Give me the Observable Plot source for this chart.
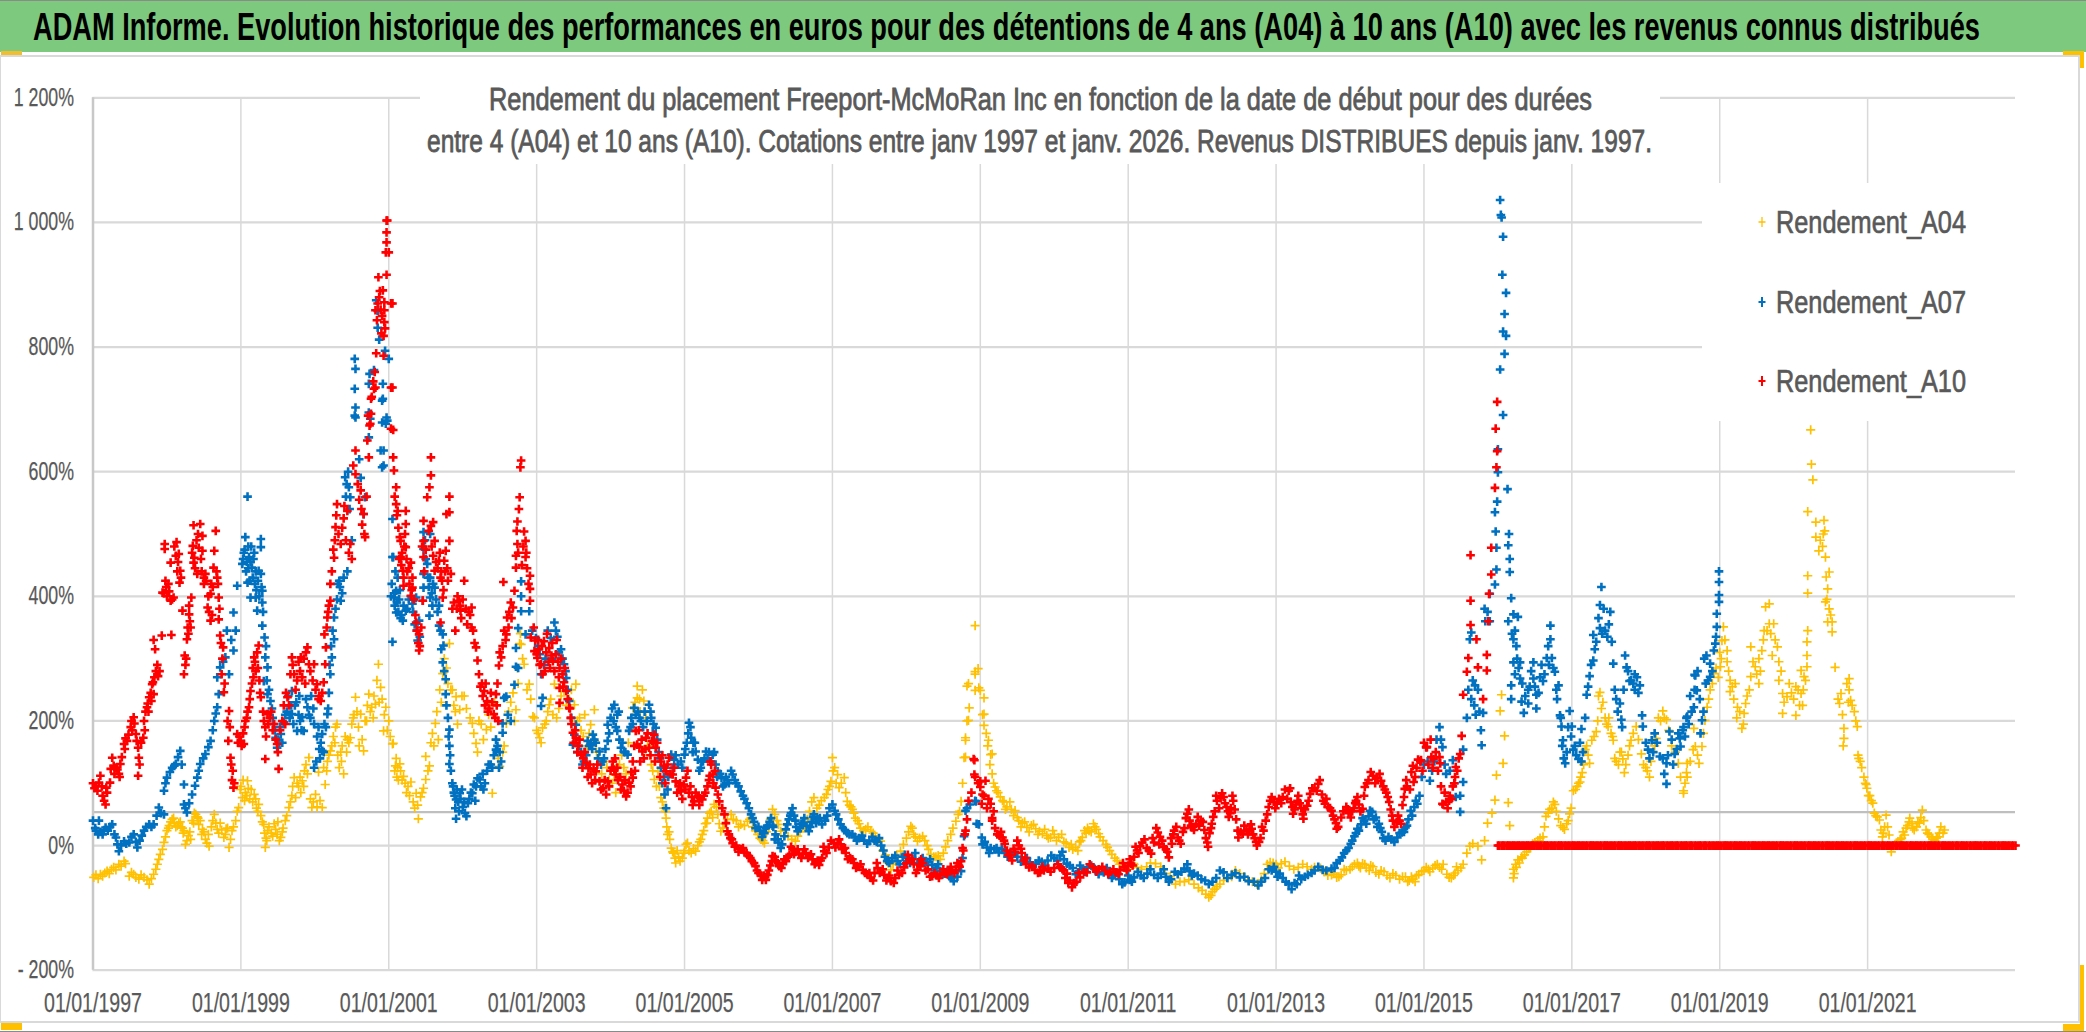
<!DOCTYPE html>
<html lang="fr">
<head>
<meta charset="utf-8">
<title>ADAM Informe</title>
<script src="https://cdn.jsdelivr.net/npm/d3@7"></script>
<script src="https://cdn.jsdelivr.net/npm/@observablehq/plot@0.6"></script>
<style>
html,body{margin:0;padding:0;width:2086px;height:1032px;overflow:hidden;background:#fff;font-family:"Liberation Sans",sans-serif;}
#banner{position:absolute;left:0;top:0;width:2086px;height:52px;background:#7DC97E;border-top:1px solid #8a8a8a;box-sizing:border-box;}
.fit{position:absolute;white-space:nowrap;transform-origin:0 50%;line-height:1;}
#title{left:33px;top:8px;font-size:38px;font-weight:bold;color:#000;}
#subbox{position:absolute;left:420px;top:85px;width:1240px;height:79px;background:#fff;}
.sub{font-size:31px;color:#595959;-webkit-text-stroke:0.8px #595959;}
#sub1{left:489px;top:84px;}
#sub2{left:427px;top:126px;}
#legendbox{position:absolute;left:1702px;top:183px;width:320px;height:238px;background:#fff;}
.leg{font-size:32px;color:#595959;-webkit-text-stroke:0.7px #595959;}
#chart{position:absolute;left:0;top:56px;}
#chart [aria-label$="tick label"] text{stroke:#595959;stroke-width:0.25px;}
.edge{position:absolute;}
</style>
</head>
<body>
<div id="banner"></div>
<div class="edge" style="left:0;top:55px;width:2079px;height:2px;background:#d9d9d9"></div>
<div id="chart"></div>
<div id="subbox"></div>
<div id="legendbox"></div>
<div class="fit" id="title" data-w="1947"></div>
<div class="fit sub" id="sub1" data-w="1103"></div>
<div class="fit sub" id="sub2" data-w="1225"></div>
<div id="legend"></div>
<div class="edge" style="left:0;top:1021px;width:2079px;height:2px;background:#d9d9d9"></div>
<div class="edge" style="left:2078px;top:55px;width:2px;height:968px;background:#d9d9d9"></div>
<div class="edge" style="left:0;top:55px;width:1px;height:968px;background:#d9d9d9"></div>
<div class="edge" style="left:0;top:1031px;width:2086px;height:1px;background:#8a8a8a"></div>
<div class="edge" style="left:1px;top:51px;width:21px;height:4px;background:#F0BE2E"></div>
<div class="edge" style="left:1px;top:1023px;width:21px;height:7px;background:#FFC000"></div>
<div class="edge" style="left:2063px;top:51px;width:20px;height:4px;background:#FFC000"></div>
<div class="edge" style="left:2080px;top:51px;width:4px;height:17px;background:#FFC000"></div>
<div class="edge" style="left:2063px;top:1024px;width:20px;height:7px;background:#FFC000"></div>
<div class="edge" style="left:2080px;top:965px;width:4px;height:66px;background:#FFC000"></div>
<script>
const titleText = "ADAM Informe. Evolution historique des performances en euros pour des détentions de 4 ans (A04) à 10 ans (A10) avec les revenus connus distribués";
const subtitleLines = ["Rendement du placement Freeport-McMoRan Inc en fonction de la date de début pour des durées",
  "entre 4 (A04) et 10 ans (A10). Cotations entre janv 1997 et janv. 2026. Revenus DISTRIBUES depuis janv. 1997."];
const seriesNames = ["Rendement_A04","Rendement_A07","Rendement_A10"];
const seriesColors = ["#FFC000","#0070C0","#FF0000"];
const xTicks = [1997,1999,2001,2003,2005,2007,2009,2011,2013,2015,2017,2019,2021];
const yTicks = [-200,0,200,400,600,800,1000,1200];
const yTickLabels = ["- 200%","0%","200%","400%","600%","800%","1 000%","1 200%"];
const axisCrossing = 53.6;

// [year, percent, year, percent, ...]
const a04 = [
1997.01,-51,1997.04,-47,1997.07,-53,1997.1,-46,1997.13,-49,1997.16,-44,1997.19,-41,1997.22,-45,1997.25,-38,1997.28,-35,1997.31,-39,1997.35,-30,1997.38,-33,1997.42,-25,1997.44,-29,
1997.49,-49,1997.52,-43,1997.55,-46,1997.58,-51,1997.62,-54,1997.65,-47,1997.69,-51,1997.73,-55,1997.76,-62,1997.79,-53,1997.82,-46,1997.85,-38,1997.87,-30,1997.89,-22,1997.91,-14,1997.94,-6,1997.96,5,1997.98,14,1998.0,24,1998.03,32,1998.07,42,1998.1,36,1998.14,32,1998.18,38,1998.21,28,1998.23,24,1998.25,2,1998.29,16,1998.32,10,1998.36,36,1998.39,50,1998.42,44,1998.45,40,1998.48,26,1998.52,10,1998.57,-1,1998.6,30,1998.64,50,1998.68,26,1998.72,36,1998.77,13,1998.8,27,1998.84,-3,1998.88,24,1998.93,40,1998.97,61,1998.99,90,1999.02,77,1999.06,85,1999.09,104,1999.12,75,1999.18,82,1999.21,60,1999.24,66,1999.27,48,1999.31,34,1999.33,-3,1999.34,12,1999.36,24,1999.41,20,1999.47,26,1999.5,38,1999.54,13,1999.57,28,1999.6,40,1999.65,61,1999.69,80,1999.72,109,1999.74,77,1999.78,95,1999.83,104,1999.86,120,1999.92,141,1999.96,61,2000.01,82,2000.05,118,2000.1,61,2000.12,125,2000.14,98,2000.17,135,2000.21,152,2000.25,175,2000.28,190,2000.33,125,2000.35,150,2000.37,160,2000.39,115,2000.44,170,2000.48,173,2000.52,205,2000.55,238,2000.59,190,2000.62,211,2000.66,152,2000.7,200,2000.73,243,2000.77,222,2000.82,227,2000.86,291,2000.89,254,2000.93,184,2000.96,222,2001.0,200,2001.05,163,2001.06,164,2001.09,128,2001.12,125,2001.15,131,2001.18,105,2001.2,111,2001.26,95,2001.3,102,2001.37,84,2001.39,65,2001.4,43,2001.45,85,2001.5,106,2001.5,143,2001.55,128,2001.59,180,2001.61,160,2001.63,196,2001.69,250,2001.73,276,2001.75,300,2001.82,324,2001.84,250,2001.86,250,2001.88,225,2001.91,239,2001.96,218,2002.02,240,2002.13,196,2002.18,164,2002.22,200,2002.32,186,2002.36,225,2002.4,84,2002.45,170,2002.5,127,2002.54,150,2002.59,196,2002.65,230,2002.72,218,2002.75,260,2002.77,324,2002.79,323,2002.83,291,2002.9,259,2002.95,207,2002.97,205,2003.0,185,2003.04,173,2003.08,189,2003.13,200,2003.17,226,2003.22,210,2003.24,259,2003.3,220,2003.37,248,2003.44,235,2003.51,226,2003.53,259,2003.58,205,2003.63,175,2003.68,160,2003.73,194,2003.78,218,2003.78,168,2003.84,140,2003.91,135,2003.98,105,2004.05,114,2004.07,85,2004.12,130,2004.18,125,2004.24,165,2004.3,221,2004.36,256,2004.36,237,2004.4,215,2004.45,232,2004.5,160,2004.55,130,2004.59,106,2004.64,119,2004.68,77,2004.72,60,2004.75,44,2004.77,18,2004.8,10,2004.82,-4,2004.85,-12,2004.88,-28,2004.92,-18,2004.97,-20,2005.0,-8,2005.04,4,2005.09,-12,2005.15,-9,2005.2,6,2005.24,18,2005.28,35,2005.31,44,2005.36,55,2005.4,66,2005.45,50,2005.49,23,2005.55,35,2005.63,50,2005.7,40,2005.76,34,2005.85,39,2005.92,30,2005.99,18,2006.04,10,2006.08,4,2006.14,30,2006.19,58,2006.25,40,2006.3,23,2006.4,15,2006.5,7,2006.56,22,2006.62,30,2006.69,55,2006.75,77,2006.82,65,2006.89,77,2006.94,90,2006.98,103,2007.0,141,2007.03,125,2007.07,114,2007.09,93,2007.16,109,2007.2,71,2007.25,62,2007.29,52,2007.34,40,2007.38,28,2007.45,26,2007.52,23,2007.58,15,2007.65,7,2007.72,-15,2007.79,-39,2007.85,-25,2007.92,-9,2008.0,12,2008.06,31,2008.1,18,2008.15,7,2008.22,15,2008.28,0,2008.33,-14,2008.4,-18,2008.46,-22,2008.53,-2,2008.6,18,2008.67,39,2008.74,71,2008.78,141,2008.8,169,2008.8,173,2008.8,142,2008.82,200,2008.82,256,2008.84,260,2008.84,201,2008.85,221,2008.93,353,2008.93,275,2008.93,279,2008.93,249,2008.97,284,2008.98,253,2009,249,2009.03,210,2009.05,237,2009.05,211,2009.05,193,2009.08,180,2009.11,169,2009.14,146,2009.16,147,2009.16,115,2009.2,94,2009.24,85,2009.27,78,2009.32,70,2009.36,62,2009.42,58,2009.47,56,2009.52,40,2009.57,36,2009.63,29,2009.69,32,2009.75,27,2009.8,23,2009.84,19,2009.9,16,2009.95,13,2010.0,18,2010.06,13,2010.13,6,2010.2,-3,2010.25,-6,2010.29,-3,2010.34,6,2010.38,13,2010.43,20,2010.47,24,2010.53,35,2010.57,26,2010.6,19,2010.66,8,2010.72,-3,2010.78,-14,2010.85,-24,2010.92,-30,2011.0,-38,2011.12,-35,2011.25,-34,2011.37,-29,2011.5,-45,2011.64,-62,2011.76,-58,2011.89,-62,2012.0,-72,2012.09,-83,2012.14,-74,2012.2,-66,2012.29,-56,2012.4,-50,2012.51,-45,2012.62,-55,2012.74,-62,2012.84,-45,2012.92,-27,2013.0,-30,2013.07,-29,2013.18,-33,2013.3,-35,2013.42,-34,2013.52,-35,2013.65,-42,2013.75,-47,2013.82,-51,2013.88,-47,2013.95,-40,2014.0,-38,2014.06,-30,2014.12,-33,2014.17,-29,2014.22,-36,2014.28,-32,2014.35,-43,2014.42,-40,2014.5,-48,2014.58,-45,2014.67,-54,2014.75,-50,2014.8,-56,2014.85,-54,2014.9,-48,2014.97,-42,2015.03,-35,2015.08,-42,2015.15,-32,2015.21,-35,2015.26,-30,2015.34,-51,2015.37,-52,2015.42,-44,2015.46,-40,2015.53,-30,2015.58,-12,2015.62,-1,2015.66,3,2015.73,-1,2015.78,-23,2015.82,8,2015.86,36,2015.92,52,2015.96,73,2015.98,113,2016.03,216,2016.05,242,2016.07,132,2016.09,176,2016.14,69,2016.16,32,2016.21,-38,2016.21,-52,2016.24,-30,2016.27,-23,2016.32,-18,2016.36,-15,2016.42,-5,2016.47,3,2016.54,8,2016.61,14,2016.65,47,2016.7,58,2016.77,66,2016.82,43,2016.88,29,2016.93,35,2016.97,51,2017.02,88,2017.07,95,2017.11,102,2017.14,117,2017.18,154,2017.24,132,2017.27,169,2017.33,183,2017.38,246,2017.4,220,2017.45,205,2017.49,191,2017.53,180,2017.56,169,2017.6,135,2017.65,150,2017.69,139,2017.71,117,2017.76,145,2017.8,169,2017.87,191,2017.94,147,2018.0,125,2018.05,110,2018.1,150,2018.14,172,2018.17,205,2018.23,216,2018.28,202,2018.35,160,2018.44,132,2018.51,88,2018.51,84,2018.55,117,2018.56,110,2018.56,132,2018.64,154,2018.65,188,2018.67,159,2018.72,132,2018.76,159,2018.8,201,2018.83,222,2018.87,250,2018.92,276,2019.01,287,2019.03,329,2019.05,351,2019.1,313,2019.1,295,2019.14,265,2019.14,247,2019.21,260,2019.24,222,2019.3,188,2019.33,212,2019.35,228,2019.42,271,2019.42,319,2019.48,287,2019.53,260,2019.53,300,2019.57,313,2019.6,345,2019.62,383,2019.67,388,2019.67,356,2019.71,305,2019.73,356,2019.78,319,2019.8,295,2019.8,265,2019.85,244,2019.85,212,2019.91,239,2019.94,260,2020.03,255,2020.03,209,2020.1,244,2020.1,281,2020.12,225,2020.14,271,2020.18,327,2020.18,305,2020.18,287,2020.19,345,2020.19,433,2020.19,405,2020.19,536,2020.23,667,2020.24,612,2020.26,587,2020.3,519,2020.3,495,2020.34,473,2020.4,500,2020.41,522,2020.43,463,2020.43,391,2020.44,431,2020.46,412,2020.46,359,2020.48,439,2020.48,380,2020.52,359,2020.52,343,2020.56,286,2020.62,228,2020.64,244,2020.68,188,2020.68,172,2020.75,268,2020.75,250,2020.77,233,2020.82,215,2020.86,191,2020.88,140,2020.9,135,2020.95,110,2020.97,100,2020.99,92,2021.03,80,2021.07,68,2021.09,52,2021.13,46,2021.16,41,2021.2,14,2021.23,30,2021.25,49,2021.29,17,2021.32,-10,2021.37,2,2021.41,6,2021.46,12,2021.5,17,2021.54,32,2021.57,44,2021.6,35,2021.63,25,2021.7,36,2021.74,57,2021.76,40,2021.79,25,2021.83,18,2021.86,14,2021.91,8,2021.95,14,2021.99,30,2022.04,25
];
const a04Cloud = [
1998.02,28,1998.05,38,1998.09,44,1998.12,30,1998.16,36,1998.19,30,1998.22,20,1998.27,8,1998.31,22,1998.34,40,1998.37,52,1998.41,46,1998.43,34,1998.47,18,1998.5,22,1998.54,4,1998.56,18,1998.62,40,1998.66,36,1998.7,20,1998.74,25,1998.79,18,1998.82,28,1998.86,10,1998.9,30,1998.95,55,1999.0,95,1999.03,105,1999.05,72,1999.08,80,1999.1,92,1999.14,90,1999.16,70,1999.2,75,1999.23,55,1999.29,38,1999.32,20,1999.35,8,1999.38,30,1999.43,15,1999.45,35,1999.49,18,1999.52,8,1999.56,22,1999.62,48,1999.67,70,1999.7,95,1999.76,100,1999.8,110,1999.81,85,1999.85,95,1999.88,130,1999.9,115,1999.94,75,1999.98,70,2000.03,62,2000.07,72,2000.16,120,2000.19,145,2000.23,160,2000.27,165,2000.3,195,2000.31,145,2000.36,135,2000.41,175,2000.43,150,2000.46,165,2000.5,195,2000.53,210,2000.57,215,2000.6,160,2000.64,170,2000.68,200,2000.71,225,2000.75,215,2000.79,205,2000.8,240,2000.84,265,2000.87,230,2000.91,235,2000.94,210,2000.98,185,2001.02,175,2001.08,120,2001.1,140,2001.11,110,2001.13,105,2001.16,120,2001.22,100,2001.24,85,2001.28,80,2001.33,70,2001.35,60,2001.43,78,2001.47,92,2001.53,120,2001.57,165,2001.65,215,2001.67,170,2001.71,230,2001.78,285,2001.8,260,2001.9,215,2001.93,195,2001.99,240,2002.05,220,2002.1,205,2002.15,180,2002.2,150,2002.25,195,2002.28,170,2002.35,210,2002.38,190,2002.43,230,2002.48,140,2002.56,160,2002.62,215,2002.68,245,2002.7,200,2002.74,285,2002.78,340,2002.81,300,2002.87,250,2002.92,235,2003.02,180,2003.06,165,2003.11,195,2003.15,215,2003.19,235,2003.27,205,
2003.33,240,2003.4,225,2003.47,250,2003.55,200,2003.6,185,2003.65,210,2003.71,180,2003.75,160,2003.81,150,2003.88,115,2003.95,125,2004.02,100,2004.1,110,2004.15,145,2004.21,115,2004.26,185,2004.33,230,2004.39,235,2004.43,250,2004.48,205,2004.53,145,2004.57,120,2004.62,95,2004.66,95,2004.7,70,2004.74,55,2004.76,30,2004.79,22,2004.84,-10,2004.87,-20,2004.9,-8,2004.94,-25,2004.99,-12,2005.02,2,2005.06,-8,2005.12,-5,2005.18,0,2005.22,10,2005.26,24,2005.3,36,2005.34,52,2005.38,45,2005.43,62,2005.47,35,2005.52,28,2005.58,42,2005.66,42,2005.73,30,2005.81,32,2005.88,42,2005.96,24,2006.02,12,2006.06,8,2006.11,22,2006.16,42,2006.22,50,2006.27,34,2006.35,16,2006.45,10,2006.53,15,2006.59,30,2006.66,42,2006.72,70,2006.79,60,2006.85,72,2006.92,82,2006.96,95,2007.01,120,2007.05,100,2007.12,100,2007.18,85,2007.23,65,2007.27,58,2007.31,44,2007.36,35,2007.42,24,2007.48,30,2007.55,20,2007.62,10,2007.68,-8,2007.75,-28,2007.82,-30,2007.88,-18,2007.96,2,2008.03,22,2008.08,28,2008.12,14,2008.18,12,2008.25,8,2008.3,-6,2008.37,-18,2008.43,-16,2008.5,-12,2008.56,8,2008.63,28,2008.7,50,2008.72,55,2008.76,100,
2009.1,160,2009.13,130,2009.18,100,2009.22,88,2009.3,72,2009.34,58,2009.4,70,2009.45,48,2009.5,45,2009.55,30,2009.6,38,2009.66,22,2009.72,34,2009.78,18,2009.87,26,2009.92,12,2009.98,24,2010.03,8,2010.1,18,2010.16,4,2010.23,2,2010.32,-8,2010.36,8,2010.41,24,2010.45,28,2010.5,22,2010.55,30,2010.62,14,2010.7,2,2010.75,-8,2010.82,-20,2010.88,-30,2010.96,-36,2011.08,-30,2011.18,-38,2011.3,-28,2011.44,-34,2011.57,-50,2011.7,-58,2011.82,-55,2011.95,-68,2012.05,-78,2012.12,-80,2012.17,-70,2012.24,-62,2012.35,-52,2012.45,-40,2012.57,-50,2012.68,-58,2012.8,-55,2012.88,-30,2012.96,-28,2013.03,-36,2013.12,-26,2013.24,-38,2013.36,-30,2013.48,-38,2013.6,-36,2013.7,-48,2013.78,-44,2013.85,-50,2013.92,-38,2014.03,-34,2014.1,-28,2014.14,-36,2014.2,-30,2014.26,-40,2014.31,-34,2014.39,-46,2014.46,-42,2014.54,-52,2014.62,-48,2014.71,-50,2014.78,-58,2014.83,-50,2014.88,-58,2014.93,-46,2015.0,-40,2015.06,-38,2015.12,-36,2015.18,-30,2015.24,-38,2015.31,-46,2015.4,-48,2015.44,-34,2015.5,-36,
2016.22,-45,2016.25,-35,2016.29,-28,2016.33,-20,2016.39,-10,2016.44,-2,2016.5,5,2016.57,12,2016.63,30,2016.68,52,2016.73,60,2016.75,70,2016.79,55,2016.85,32,2016.9,26,2016.95,40,2016.99,60,2017.05,90,2017.09,100,2017.12,110,2017.16,130,2017.2,160,2017.22,145,2017.3,175,2017.35,200,2017.36,240,2017.42,230,2017.47,195,2017.5,205,2017.55,175,2017.58,140,2017.63,130,2017.67,150,2017.73,130,2017.78,160,2017.83,180,2017.9,170,2017.97,130,2018.02,120,2018.07,135,2018.12,160,2018.2,200,2018.25,205,2018.31,185,2018.4,150,2018.47,110,2018.53,100,2018.6,135,2018.7,145,2018.78,180,2018.85,235,2018.9,260,2018.95,285,2018.98,270,2019.0,310,2019.02,300,2019.07,330,2019.12,280,2019.17,255,2019.19,235,2019.23,205,2019.27,215,2019.32,195,2019.37,240,2019.4,250,2019.45,295,2019.5,275,2019.55,280,2019.59,330,2019.64,345,2019.69,340,2019.75,330,2019.83,280,2019.87,230,2019.97,245,2020.0,235,2020.06,250,2020.08,225,2020.13,250,2020.16,265,2020.36,490,2020.39,480,2020.42,505,2020.45,395,2020.5,370,2020.6,235,2020.66,210,2020.67,160,2020.72,260,2020.74,230,2020.79,225,2020.84,200,2020.87,145,2020.92,125,2020.98,98,2021.01,80,2021.05,72,2021.11,48,2021.18,25,2021.21,20,2021.27,30,2021.35,0,2021.39,4,2021.44,10,2021.48,22,2021.52,28,2021.56,38,2021.61,28,2021.66,30,2021.68,38,2021.72,45,2021.81,20,2021.88,10,2021.93,12,2021.97,20,2022.02,20
];
const a07 = [
1997.0,40,1997.03,28,1997.04,24,1997.07,18,1997.08,40,1997.1,22,1997.13,18,1997.15,25,1997.17,29,1997.2,24,1997.23,30,1997.26,34,1997.29,18,1997.31,13,1997.33,2,1997.35,-9,1997.38,0,1997.42,7,1997.45,3,1997.49,5,1997.52,14,1997.55,18,1997.58,6,1997.6,-3,1997.63,8,1997.66,16,1997.69,24,1997.72,30,1997.76,34,1997.79,30,1997.82,34,1997.86,48,1997.89,61,1997.92,52,1997.96,50,1997.96,88,1997.98,100,1998.0,109,1998.04,118,1998.07,125,1998.1,128,1998.12,131,1998.15,142,1998.18,152,1998.2,130,1998.23,98,1998.23,66,1998.25,60,1998.27,53,1998.3,68,1998.34,82,1998.38,96,1998.41,109,1998.43,120,1998.45,131,1998.49,140,1998.52,147,1998.56,158,1998.59,168,1998.62,185,1998.64,200,1998.66,212,1998.68,222,1998.7,243,1998.68,270,1998.72,286,1998.76,295,1998.79,302,1998.81,345,1998.84,275,1998.9,313,1998.87,330,1998.93,345,1998.9,374,
1998.95,417,1999.02,452,1999.04,470,1999.06,495,1999.09,560,1999.1,480,1999.11,463,1999.13,455,1999.15,446,1999.18,470,1999.2,440,1999.24,441,1999.27,492,1999.27,479,1999.27,436,1999.09,422,1999.13,398,1999.2,398,1999.29,409,1999.29,390,1999.22,377,1999.29,353,1999.32,334,1999.33,302,1999.36,286,1999.31,264,1999.36,243,1999.4,232,1999.43,205,1999.47,173,1999.49,157,1999.52,165,1999.54,179,1999.58,198,1999.62,215,1999.69,211,1999.69,248,1999.73,225,1999.76,184,1999.8,200,1999.83,206,1999.85,184,1999.9,222,1999.95,240,1999.99,195,2000.05,190,1999.99,125,2000.02,135,2000.06,155,2000.1,152,2000.1,179,2000.13,195,2000.17,211,2000.19,245,2000.21,275,2000.23,302,2000.26,366,2000.26,331,2000.33,425,2000.35,393,2000.39,430,2000.41,591,2000.46,575,2000.48,559,2000.44,440,2000.54,781,2000.55,765,2000.54,733,2000.55,687,2000.55,703,2000.54,690,2000.6,620,2000.62,590,2000.68,559,2000.66,532,2000.73,655,2000.73,695,2000.73,741,2000.74,757,2000.75,685,2000.8,763,2000.83,875,2000.85,858,2000.85,831,2000.87,812,2000.91,714,2000.91,679,2000.89,634,2000.91,607,2000.92,741,2000.92,717,2000.96,677,2000.95,794,2001.0,781,2000.98,682,2000.93,610,2000.93,634,2000.97,687,2001.05,524,2001.05,463,2001.05,327,2001.06,463,2001.07,398,2001.08,385,2001.1,409,2001.1,374,2001.12,430,2001.14,395,2001.17,370,2001.19,361,2001.23,377,2001.27,395,2001.32,388,2001.37,398,2001.39,329,2001.41,361,2001.46,393,2001.47,503,2001.47,476,2001.47,436,2001.47,414,2001.52,452,2001.55,369,2001.56,500,2001.56,430,2001.56,398,2001.6,420,2001.62,414,2001.68,385,2001.68,353,2001.73,339,2001.73,294,2001.74,321,2001.77,267,2001.77,243,2001.82,186,2001.82,160,2001.82,131,2001.86,100,2001.88,85,2001.91,74,2001.91,43,2001.96,84,2002.0,62,2002.05,47,2002.09,75,2002.13,84,2002.18,95,2002.23,106,2002.28,90,2002.33,120,2002.38,130,2002.45,154,2002.45,170,2002.52,135,2002.54,181,2002.54,196,2002.56,237,2002.59,239,2002.61,210,2002.65,200,2002.7,258,2002.72,287,2002.75,285,2002.72,317,2002.75,349,2002.79,376,2002.79,424,2002.79,400,2002.85,339,2002.9,376,2002.94,345,
2002.99,333,2003.04,307,2003.06,275,2003.08,237,2003.06,224,2003.12,300,2003.19,333,2003.24,358,2003.28,335,2003.33,315,2003.37,291,2003.4,269,2003.44,232,2003.49,162,2003.53,194,2003.57,160,2003.62,130,2003.65,150,2003.69,168,2003.73,162,2003.76,178,2003.8,165,2003.85,151,2003.89,135,2003.93,155,2003.96,168,2003.96,194,2004.0,205,2004.05,226,2004.09,210,2004.09,184,2004.12,170,2004.14,157,2004.18,150,2004.23,146,2004.25,184,2004.28,205,2004.32,221,2004.37,215,2004.41,200,2004.46,215,2004.52,226,2004.55,205,2004.58,195,2004.61,189,2004.65,150,2004.68,125,2004.7,100,2004.73,82,2004.75,60,2004.78,110,2004.82,146,2004.86,138,2004.91,130,2004.95,135,2005.0,146,2005.03,165,2005.06,197,2005.09,173,2005.12,165,2005.15,151,2005.18,138,2005.22,125,2005.25,135,2005.29,151,2005.33,150,2005.38,146,2005.42,130,2005.45,119,2005.5,108,2005.54,98,2005.58,105,2005.65,114,2005.7,100,2005.76,87,2005.81,75,2005.87,60,2005.92,44,2005.96,28,2006.02,24,2006.08,20,2006.12,32,2006.17,44,2006.2,30,2006.23,18,2006.27,5,2006.3,-4,2006.35,15,2006.39,34,2006.43,48,2006.46,60,2006.5,40,2006.53,23,2006.58,35,2006.62,44,2006.68,23,2006.72,38,2006.75,50,2006.8,42,2006.86,34,2006.93,48,2007.0,66,2007.05,50,2007.11,34,2007.17,25,2007.23,18,2007.3,14,2007.36,12,2007.43,8,2007.5,7,2007.57,8,2007.63,12,2007.69,-8,2007.74,-25,2007.81,-20,2007.88,-25,2007.95,-18,2008.01,-25,2008.08,-20,2008.15,-28,2008.22,-20,2008.28,-26,2008.35,-31,2008.4,-36,2008.46,-41,2008.52,-45,2008.58,-49,2008.64,-57,2008.69,-50,2008.74,-41,2008.76,-20,2008.78,15,2008.8,56,2008.82,60,2008.86,66,2008.93,72,2008.94,71,2008.95,35,2008.98,34,2009.02,13,2009.03,2,2009.06,6,2009.09,-3,2009.14,-4,2009.19,-6,2009.25,-11,2009.33,-12,2009.41,-13,2009.5,-18,2009.59,-24,2009.67,-27,2009.75,-29,2009.83,-26,2009.91,-24,2010.0,-20,2010.08,-16,2010.13,-22,2010.17,-29,2010.25,-36,2010.32,-43,2010.38,-38,2010.45,-35,2010.55,-38,2010.67,-43,2010.74,-45,2010.8,-48,2010.88,-54,2010.95,-59,2011.02,-55,2011.08,-51,2011.17,-48,2011.26,-45,2011.35,-47,2011.44,-45,2011.51,-50,2011.58,-54,2011.67,-46,2011.76,-37,2011.83,-41,2011.89,-45,2011.99,-54,2012.09,-62,2012.19,-52,2012.29,-43,2012.4,-47,2012.51,-51,2012.63,-57,2012.76,-64,2012.85,-52,2012.94,-40,2013.0,-42,2013.05,-45,2013.13,-58,2013.21,-70,2013.28,-62,2013.34,-54,2013.43,-47,2013.52,-40,2013.63,-39,2013.75,-37,2013.82,-28,2013.89,-19,2013.95,-8,2014.01,3,2014.06,15,2014.1,27,2014.15,34,2014.19,40,2014.25,47,2014.3,54,2014.35,45,2014.39,35,2014.43,22,2014.48,8,2014.56,10,2014.64,13,2014.7,21,2014.75,29,2014.79,42,2014.82,56,2014.87,62,2014.91,67,2014.97,110,2015.03,158,2015.08,104,2015.14,135,2015.21,190,2015.25,158,2015.3,115,2015.39,137,2015.43,78,2015.49,54,2015.49,80,2015.53,102,2015.53,154,2015.58,205,2015.62,331,2015.64,235,2015.64,342,2015.69,257,2015.73,250,2015.78,161,2015.8,213,2015.86,375,2015.89,360,2015.89,404,2015.96,419,2015.98,443,2015.98,478,2015.97,504,2015.96,535,2015.99,552,2016.0,599,2016.0,636,2016.03,764,2016.03,1036,2016.04,1012,2016.05,1008,2016.06,916,2016.07,977,2016.07,825,2016.07,691,2016.09,789,2016.09,853,2016.11,818,2016.11,887,2016.13,572,2016.14,482,2016.14,360,2016.15,500,2016.16,460,2016.16,439,2016.18,397,2016.18,257,2016.18,235,2016.21,371,2016.21,331,2016.21,294,2016.23,275,2016.25,320,2016.27,367,2016.3,294,2016.3,268,2016.32,231,2016.35,213,2016.41,250,2016.41,228,2016.48,294,2016.48,268,2016.52,242,2016.52,220,2016.59,290,2016.61,264,2016.66,301,2016.71,353,2016.71,331,2016.73,301,2016.77,279,2016.8,235,2016.82,257,2016.84,209,2016.86,191,2016.88,169,2016.91,132,2016.97,216,2017.0,191,2017.02,154,2017.09,139,2017.13,187,2017.13,135,2017.18,205,2017.2,242,2017.24,272,2017.29,297,2017.29,338,2017.33,327,2017.38,349,2017.38,386,2017.4,415,2017.45,345,2017.52,375,2017.54,327,2017.56,292,2017.58,250,2017.65,228,2017.67,202,2017.72,305,2017.74,286,2017.78,264,2017.85,275,2017.85,250,2017.92,257,2017.95,209,2017.96,191,2018.03,154,2018.08,169,2018.12,180,2018.19,143,2018.28,132,2018.28,99,2018.32,183,2018.39,147,2018.46,172,2018.47,159,2018.51,190,2018.55,205,2018.56,207,2018.65,222,2018.66,274,2018.66,250,2018.67,273,2018.69,249,2018.73,235,2018.74,180,2018.76,201,2018.81,260,2018.82,305,2018.87,292,2018.87,271,2018.92,313,2018.94,324,2018.96,351,2018.96,372,2018.99,391,2018.99,402,2018.99,423,2018.99,440
];
const a07Cloud = [
1999.03,460,1999.05,475,1999.07,440,1999.08,455,1999.1,445,1999.12,425,1999.14,480,1999.16,430,1999.17,460,1999.19,420,1999.21,410,1999.23,425,1999.25,400,1999.28,415,1999.3,375,1999.34,320,1999.35,265,1999.38,250,1999.42,220,1999.44,195,1999.46,185,1999.5,170,1999.53,190,1999.56,165,1999.6,210,1999.64,240,1999.66,205,1999.68,225,1999.71,195,1999.75,230,1999.78,210,1999.79,240,1999.82,185,1999.88,235,1999.92,210,1999.94,205,1999.98,220,2000.03,175,2000.07,140,2000.08,165,2000.12,150,2000.15,190,2000.18,220,2000.2,290,2000.22,320,2000.24,345,2000.28,380,2000.3,395,2000.31,420,2000.34,415,2000.37,405,2000.42,560,2000.43,580,2000.45,600,2000.47,540,2000.5,490,
2001.03,400,2001.04,420,2001.08,405,2001.09,440,2001.11,390,2001.13,375,2001.15,410,2001.16,365,2001.2,385,2001.25,380,2001.3,400,2001.33,375,2001.35,355,2001.38,345,2001.42,335,2001.49,490,2001.5,460,2001.53,430,2001.54,415,2001.58,405,2001.59,385,2001.64,395,2001.66,375,2001.7,345,2001.71,315,2001.75,280,2001.78,225,2001.8,205,2001.81,175,2001.83,145,2001.84,120,2001.87,95,2001.89,80,2001.9,60,2001.92,90,2001.94,70,2001.95,55,2001.97,75,2001.99,90,2002.02,70,2002.03,52,2002.07,68,2002.11,85,2002.15,98,2002.17,72,2002.2,108,2002.25,95,2002.27,115,2002.3,100,2002.35,130,2002.4,125,2002.42,145,2002.47,160,2002.49,125,2002.5,150,
2003.02,320,2003.1,290,2003.15,345,2003.21,300,2003.26,345,2003.3,310,2003.35,300,2003.39,280,2003.42,250,2003.47,205,2003.51,178,2003.55,150,2003.6,150,2003.64,135,2003.67,145,2003.71,160,2003.75,155,2003.78,170,2003.83,140,2003.87,130,2003.91,140,2003.98,180,2004.02,220,2004.04,200,2004.07,190,2004.11,215,2004.16,165,2004.2,150,2004.27,190,2004.3,195,2004.34,210,2004.39,205,2004.44,190,2004.49,200,2004.54,215,2004.57,180,2004.63,170,2004.67,140,2004.72,110,2004.77,90,2004.84,125,2004.88,145,2004.97,125,2005.01,155,2005.05,180,2005.08,190,2005.11,150,2005.14,165,2005.2,120,2005.23,135,2005.27,140,2005.31,140,2005.36,135,2005.4,150,2005.44,110,2005.48,115,2005.52,95,2005.56,110,2005.6,100,2005.63,120,2005.68,105,2005.73,95,2005.79,80,2005.84,68,2005.9,50,2005.94,38,2006.0,30,2006.05,14,2006.1,28,2006.15,38,2006.19,32,2006.22,10,2006.26,10,2006.32,2,2006.37,26,2006.41,42,2006.44,52,2006.48,48,2006.51,30,2006.56,28,2006.6,36,2006.65,32,2006.7,30,2006.74,46,2006.78,36,2006.83,44,2006.9,40,2006.96,60,2007.03,56,2007.08,42,2007.14,28,2007.2,20,2007.27,18,2007.33,8,2007.4,16,2007.47,3,2007.54,14,2007.6,6,2007.66,0,2007.71,-18,2007.77,-28,2007.85,-16,2007.91,-30,2007.98,-15,2008.05,-28,2008.12,-12,2008.18,-28,2008.25,-28,2008.32,-22,2008.38,-40,2008.43,-30,2008.49,-46,2008.55,-42,2008.61,-52,
2009.12,-12,2009.22,-4,2009.29,-6,2009.37,-18,2009.46,-10,2009.55,-26,2009.63,-20,2009.71,-34,2009.79,-24,2009.87,-32,2009.96,-16,2010.04,-24,2010.11,-10,2010.21,-32,2010.29,-46,2010.35,-32,2010.42,-42,2010.5,-32,2010.6,-46,2010.71,-36,2010.78,-52,2010.85,-44,2010.92,-62,2011.0,-48,2011.05,-58,2011.13,-42,2011.21,-52,2011.3,-38,2011.4,-52,2011.48,-38,2011.55,-58,2011.63,-42,2011.72,-42,2011.8,-30,2011.86,-48,2011.94,-48,2012.04,-56,2012.14,-58,2012.24,-40,2012.34,-52,2012.45,-44,2012.57,-50,2012.7,-58,2012.8,-58,2012.9,-38,2012.97,-34,2013.02,-50,2013.09,-52,2013.17,-62,2013.25,-60,2013.31,-48,2013.39,-50,2013.48,-44,2013.57,-34,2013.68,-40,2013.79,-36,2013.86,-24,2013.92,-12,2013.98,-4,2014.03,8,2014.08,20,2014.12,24,2014.17,44,2014.22,35,2014.27,56,2014.32,42,2014.37,30,2014.41,28,2014.45,12,2014.52,14,2014.6,6,2014.67,20,2014.73,22,2014.77,32,2014.84,48,2014.89,72,2014.94,80,2015.0,130,2015.05,135,2015.11,120,2015.17,170,2015.23,170,2015.28,130,2015.35,120,2015.41,100,
2015.6,250,2015.66,265,2015.68,225,2015.7,210,2015.75,215,2015.77,185,2015.83,360,2015.82,380,2016.19,340,2016.23,345,2016.26,300,2016.28,285,2016.33,260,2016.37,240,2016.43,255,2016.45,280,2016.5,255,2016.55,245,2016.57,270,2016.63,275,2016.68,320,2016.69,290,2016.75,285,2016.79,250,2016.85,205,2016.87,160,2016.89,140,2016.93,150,2016.95,190,2016.99,175,2017.04,160,2017.06,145,2017.11,165,2017.15,150,2017.22,255,2017.26,290,2017.31,315,2017.36,365,2017.41,340,2017.43,380,2017.48,335,2017.5,355,2017.6,235,2017.62,215,2017.68,190,2017.7,250,2017.76,280,2017.8,265,2017.83,260,2017.88,270,2017.9,245,2018.0,165,2018.05,140,2018.1,150,2018.15,165,2018.23,140,2018.25,115,2018.3,145,2018.35,170,2018.37,130,2018.42,155,2018.44,180,2018.5,185,2018.53,175,2018.58,195,2018.6,240,2018.62,215,2018.7,280,2018.78,215,2018.79,300,2018.84,265,2018.9,280,2018.95,335
];
const a10 = [
1997.04,96,1997.06,88,1997.08,101,1997.1,112,1997.13,80,1997.17,66,1997.18,93,1997.23,101,1997.24,123,1997.26,141,1997.31,125,1997.35,115,1997.37,131,1997.42,163,1997.46,168,1997.51,190,1997.55,206,1997.58,179,1997.61,157,1997.61,112,1997.62,141,1997.68,173,1997.69,200,1997.73,222,1997.76,238,1997.8,259,1997.82,243,1997.85,280,1997.9,280,1997.84,315,1997.82,330,1997.93,337,1998.06,338,1997.94,406,1997.98,425,1998.02,420,1997.97,484,1997.97,476,1998.05,393,1998.09,398,1998.05,454,1998.13,487,1998.16,468,1998.18,441,1998.17,422,1998.21,377,1998.23,275,1998.24,305,1998.27,331,1998.32,350,1998.33,398,1998.3,371,1998.35,481,1998.36,514,1998.45,516,1998.48,497,1998.36,454,1998.41,436,1998.48,473,1998.52,436,1998.5,420,1998.55,382,1998.59,361,1998.59,404,1998.63,446,1998.66,505,1998.64,473,1998.68,430,1998.7,398,1998.7,363,1998.72,337,1998.76,318,1998.74,275,1998.77,246,1998.84,216,1998.82,200,1998.83,168,1998.86,141,1998.89,120,1998.9,93,1998.95,179,1999.0,168,1999.04,163,1999.06,200,1999.11,222,1999.13,248,1999.2,280,1999.18,302,1999.24,321,1999.27,238,1999.33,190,1999.33,139,1999.36,211,1999.45,195,1999.49,163,1999.51,123,1999.6,195,1999.63,238,1999.69,302,1999.72,275,1999.81,302,1999.83,270,1999.9,318,1999.92,291,1999.99,291,2000.03,259,2000.08,232,2000.12,262,2000.14,291,2000.15,318,2000.13,339,2000.17,366,2000.21,393,2000.21,420,2000.26,462,2000.28,511,2000.3,548,2000.35,484,2000.44,537,2000.48,484,2000.5,460,2000.55,634,2000.55,596,2000.62,570,2000.66,532,2000.68,495,2000.73,623,2000.75,677,2000.76,717,2000.76,693,2000.74,674,2000.8,733,2000.77,720,2000.82,735,2000.82,859,2000.84,843,2000.86,912,2000.88,890,2000.9,822,2000.92,891,2000.94,872,2000.94,859,2000.94,840,2000.93,818,2000.93,786,2000.96,952,2000.97,1003,2000.97,984,2000.97,968,2000.97,916,2000.98,1003,2001.0,952,2001.03,870,2001.03,735,2001.03,669,2001.05,870,2001.05,735,2001.06,667,2001.06,623,2001.07,602,2001.1,575,2001.1,548,2001.12,537,2001.16,489,2001.16,463,2001.19,441,2001.2,417,2001.22,500,2001.23,537,2001.23,516,2001.23,479,2001.3,454,2001.3,401,2001.32,430,2001.32,414,2001.37,358,2001.41,339,2001.41,313,2001.46,393,2001.47,521,2001.47,489,2001.47,463,2001.52,559,2001.55,575,2001.57,594,2001.57,623,2001.57,513,2001.6,519,2001.62,489,2001.62,441,2001.68,457,2001.7,430,2001.7,358,2001.73,398,2001.75,457,2001.77,473,2001.78,532,2001.82,535,2001.82,560,2001.82,489,2001.84,436,2001.86,380,2001.9,345,2001.95,393,2001.97,377,2002.02,425,2002.12,382,2002.12,350,2002.18,318,2002.2,297,2002.22,275,2002.26,260,2002.29,248,2002.33,232,2002.36,220,2002.42,211,2002.45,243,2002.47,260,2002.49,289,2002.52,302,2002.59,339,2002.6,366,2002.55,423,2002.68,382,2002.7,409,2002.72,446,2002.72,465,2002.73,505,2002.74,484,2002.76,540,2002.77,559,2002.78,607,2002.79,618,2002.83,504,2002.85,489,2002.85,463,2002.91,433,2002.91,412,2002.91,393,2002.92,334,2002.96,350,2002.97,312,2002.98,329,2003.0,307,2003.01,301,2003.03,315,2003.06,291,2003.08,275,2003.1,328,2003.13,310,2003.17,317,2003.2,305,2003.22,296,2003.26,307,2003.29,295,2003.31,285,2003.35,275,2003.31,253,2003.37,262,2003.4,248,2003.44,221,2003.31,229,2003.46,205,2003.49,181,2003.53,173,2003.56,160,2003.6,146,2003.63,140,2003.67,133,2003.7,124,2003.73,114,2003.77,122,2003.8,119,2003.85,103,2003.9,92,2003.94,82,2003.96,103,2004.0,120,2004.03,135,2004.05,122,2004.07,114,2004.09,125,2004.13,110,2004.16,98,2004.18,88,2004.21,79,2004.25,101,2004.28,118,2004.3,135,2004.3,109,2004.34,184,2004.36,162,2004.39,158,2004.43,151,2004.48,173,2004.52,157,2004.56,168,2004.59,178,2004.61,157,2004.65,145,2004.68,135,2004.72,128,2004.75,119,2004.79,141,2004.84,114,2004.88,103,2004.92,95,2004.95,87,2004.99,98,2005.02,109,2005.06,85,2005.1,78,2005.13,71,2005.18,79,2005.21,76,2005.24,74,2005.28,85,2005.31,95,2005.34,112,2005.36,130,2005.38,114,2005.42,93,2005.45,82,2005.47,71,2005.51,60,2005.54,50,2005.56,36,2005.58,23,2005.62,12,2005.65,4,2005.7,0,2005.76,-6,2005.81,-11,2005.87,-17,2005.91,-25,2005.96,-33,2006.0,-44,2006.05,-55,2006.09,-50,2006.12,-47,2006.16,-32,2006.19,-17,2006.24,-25,2006.28,-33,2006.33,-29,2006.37,-25,2006.42,-15,2006.46,-6,2006.5,-10,2006.55,-14,2006.6,-13,2006.64,-12,2006.69,-17,2006.73,-22,2006.78,-27,2006.82,-31,2006.86,-20,2006.89,-9,2006.95,-3,2007.02,4,2007.07,3,2007.11,2,2007.15,-5,2007.18,-12,2007.24,-20,2007.29,-28,2007.35,-34,2007.41,-39,2007.47,-46,2007.52,-52,2007.57,-44,2007.61,-36,2007.66,-42,2007.7,-47,2007.75,-52,2007.79,-57,2007.85,-52,2007.9,-47,2007.97,-35,2008.04,-22,2008.1,-30,2008.15,-39,2008.19,-33,2008.22,-28,2008.29,-38,2008.35,-49,2008.41,-48,2008.46,-47,2008.52,-44,2008.58,-41,2008.62,-40,2008.67,-39,2008.71,-32,2008.74,-25,2008.76,-4,2008.77,-8,2008.79,18,2008.8,24,2008.82,42,2008.84,72,2008.88,85,2008.91,139,2008.92,114,2008.92,137,2008.93,110,2008.97,100,2009.0,94,2009.0,103,2009.02,67,2009.03,82,2009.07,104,2009.09,60,2009.14,67,2009.16,44,2009.16,40,2009.2,28,2009.23,18,2009.26,16,2009.3,13,2009.33,3,2009.36,-8,2009.4,-16,2009.43,-24,2009.47,-10,2009.52,0,2009.56,-12,2009.59,-24,2009.62,-30,2009.66,-35,2009.74,-39,2009.81,-43,2009.86,-40,2009.92,-37,2010.0,-36,2010.08,-35,2010.13,-40,2010.17,-45,2010.21,-56,2010.24,-67,2010.3,-58,2010.35,-51,2010.44,-43,2010.53,-35,2010.6,-38,2010.69,-40,2010.76,-42,2010.83,-43,2010.89,-39,2010.95,-35,2011.0,-32,2011.04,-29,2011.08,-18,2011.12,-8,2011.16,-1,2011.19,5,2011.25,-4,2011.31,-13,2011.35,5,2011.4,21,2011.43,14,2011.46,8,2011.51,-6,2011.55,-19,2011.59,3,2011.62,24,2011.67,13,2011.71,3,2011.76,28,2011.8,51,2011.83,40,2011.86,29,2011.92,35,2011.98,40,2012.03,25,2012.07,5,2012.1,20,2012.13,35,2012.17,55,2012.2,72,2012.25,76,2012.29,78,2012.33,62,2012.36,46,2012.39,60,2012.42,72,2012.46,42,2012.49,13,2012.55,19,2012.6,24,2012.64,26,2012.67,27,2012.71,12,2012.74,0,2012.79,12,2012.83,24,2012.88,50,2012.92,72,2012.97,70,2013.01,67,2013.09,78,2013.17,88,2013.2,70,2013.23,51,2013.27,66,2013.3,80,2013.34,60,2013.37,43,2013.42,64,2013.46,83,2013.52,92,2013.57,99,2013.62,82,2013.66,67,2013.7,62,2013.75,56,2013.79,42,2013.82,27,2013.88,45,2013.95,62,2013.98,52,2014.01,45,2014.05,60,2014.08,72,2014.12,66,2014.17,59,2014.2,94,2014.25,105,2014.31,112,2014.37,108,2014.42,104,2014.47,90,2014.51,78,2014.55,58,2014.58,40,2014.63,38,2014.67,40,2014.71,65,2014.74,91,2014.77,95,2014.83,118,2014.86,102,2014.9,125,2014.95,135,2014.96,137,2015.03,158,2015.04,158,2015.1,142,2015.13,139,2015.21,142,2015.22,132,2015.25,67,2015.26,66,2015.3,70,2015.34,72,2015.35,80,2015.39,95,2015.42,110,2015.43,126,2015.49,147,2015.51,176,2015.53,242,2015.58,279,2015.6,301,2015.63,354,2015.63,393,2015.63,466,2015.71,331,2015.73,286,2015.8,235,2015.85,306,2015.85,281,2015.87,360,2015.88,404,2015.91,435,2015.91,478,2015.96,574,2015.98,607,2015.99,633,2015.97,669,2015.99,712
];
const a10Cloud = [
1997.0,100,1997.02,92,1997.12,95,1997.15,72,1997.19,85,1997.28,128,1997.29,115,1997.33,122,1997.36,110,1997.39,142,1997.43,155,1997.44,172,1997.48,178,1997.52,200,1997.53,185,1997.56,196,1997.59,168,1997.63,130,1997.65,165,1997.7,185,1997.71,215,1997.74,228,1997.75,215,1997.78,245,1997.79,232,1997.81,262,1997.83,270,1997.87,290,1997.88,272,1997.96,405,1997.99,415,
1998.0,400,1998.03,408,1998.07,395,1998.1,480,1998.12,465,1998.15,455,1998.14,440,1998.19,430,1998.28,350,1998.29,340,1998.3,385,1998.31,360,1998.26,300,1998.25,290,1998.34,470,1998.37,462,1998.38,445,1998.4,490,1998.42,500,1998.43,478,1998.46,460,1998.47,440,1998.5,430,1998.53,425,1998.56,400,1998.57,375,1998.6,420,1998.62,415,1998.61,370,1998.67,440,1998.69,420,1998.71,380,1998.73,325,1998.75,300,1998.78,260,1998.85,190,1998.87,130,1998.88,105,1998.91,100,1998.96,165,1998.98,175,1999.01,160,1999.03,180,1999.05,190,1999.08,205,1999.09,215,1999.12,235,1999.15,260,1999.16,285,1999.17,270,1999.19,295,1999.22,310,1999.23,285,1999.25,265,1999.26,245,1999.3,215,1999.31,200,1999.34,175,1999.37,195,1999.39,205,1999.41,215,1999.43,185,1999.47,170,1999.5,150,1999.53,185,1999.56,200,1999.58,225,1999.61,245,1999.65,225,1999.67,275,1999.7,290,1999.74,250,1999.76,265,1999.78,295,1999.8,280,1999.85,300,1999.87,260,1999.88,310,1999.94,280,1999.97,265,2000.01,250,2000.05,235,2000.06,240,2000.1,245,2000.16,350,2000.18,375,2000.19,385,2000.23,440,2000.25,475,2000.27,490,2000.29,530,2000.32,500,2000.37,510,2000.39,525,2000.4,545,2000.42,490,2000.46,470,2000.52,610,2000.58,580,2000.6,555,2000.63,540,2000.64,515,2000.67,500,2000.7,560,2000.71,650,2000.72,690,2000.79,745,2000.81,760,2000.83,790,2000.85,870,2000.87,880,2000.89,860,2000.91,850,2000.95,830,
2001.08,560,2001.11,530,2001.13,510,2001.15,495,2001.18,470,2001.14,460,2001.17,450,2001.2,430,2001.21,480,2001.24,460,2001.25,440,2001.27,445,2001.28,420,2001.31,410,2001.34,395,2001.36,370,2001.38,345,2001.4,325,2001.42,320,2001.44,350,2001.45,480,2001.48,440,2001.5,475,2001.54,505,2001.58,480,2001.6,465,2001.64,455,2001.66,445,2001.69,470,2001.71,440,2001.72,425,2001.74,410,2001.76,440,2001.79,445,2001.8,425,2001.88,390,2001.92,380,2001.93,400,2001.96,385,2001.98,365,2002.0,395,2002.04,380,2002.06,355,2002.08,375,2002.1,370,2002.14,345,2002.16,325,2002.24,255,2002.27,240,2002.3,225,2002.31,260,2002.34,215,2002.38,245,2002.4,230,2002.44,205,2002.46,225,2002.48,200,2002.5,310,2002.54,320,2002.56,345,2002.58,330,2002.62,350,2002.63,375,2002.65,390,2002.66,365,2002.74,520,2002.75,470,2002.8,450,2002.82,480,2002.86,470,2002.87,445,2002.89,420,
2003.02,330,2003.04,290,2003.07,320,2003.11,280,2003.14,340,2003.16,295,2003.18,285,2003.21,325,2003.24,280,2003.27,330,2003.3,270,2003.33,300,2003.36,255,2003.38,285,2003.42,235,2003.45,220,2003.47,195,2003.5,165,2003.52,185,2003.55,150,2003.58,170,2003.62,125,2003.65,150,2003.69,110,2003.72,130,2003.75,100,2003.79,105,2003.82,130,2003.87,90,2003.92,105,2003.98,95,2004.02,125,2004.06,140,2004.1,105,2004.14,90,2004.19,105,2004.23,85,2004.27,95,2004.32,160,2004.33,120,2004.38,185,2004.4,135,2004.42,170,2004.45,140,2004.47,155,2004.5,180,2004.54,145,2004.58,165,2004.6,135,2004.63,165,2004.67,110,2004.7,145,2004.74,100,2004.77,130,2004.81,115,2004.86,125,2004.9,85,2004.94,100,2004.97,75,2005.01,90,2005.04,120,2005.08,95,2005.11,65,2005.15,85,2005.2,65,2005.26,80,2005.33,105,2005.35,135,2005.39,100,2005.41,120,
2005.6,18,2005.64,10,2005.68,-2,2005.73,-10,2005.79,-4,2005.84,-12,2005.89,-20,2005.94,-28,2005.98,-40,2006.03,-48,2006.07,-48,2006.1,-55,2006.14,-40,2006.18,-25,2006.22,-18,2006.26,-28,2006.31,-36,2006.35,-22,2006.4,-18,2006.44,-2,2006.48,-14,2006.53,-6,2006.58,-20,2006.62,-6,2006.67,-20,2006.71,-14,2006.76,-30,2006.8,-24,2006.84,-24,2006.88,-2,2006.92,-12,2006.98,8,2007.04,-3,2007.09,10,2007.13,-6,2007.17,-4,2007.21,-22,2007.27,-22,2007.32,-36,2007.38,-30,2007.44,-44,2007.5,-44,2007.55,-56,2007.6,-28,2007.64,-44,2007.68,-38,2007.73,-56,2007.77,-48,2007.83,-60,2007.88,-40,2007.94,-44,2008.0,-28,2008.02,-15,2008.08,-22,2008.13,-44,2008.17,-30,2008.2,-22,2008.26,-40,2008.32,-50,2008.38,-44,2008.44,-52,2008.5,-38,2008.55,-46,2008.6,-34,2008.65,-44,2008.69,-28,2008.72,-34,
2009.05,80,2009.11,75,2009.18,55,2009.28,22,2009.32,8,2009.38,-15,2009.45,-5,2009.5,8,2009.55,-5,2009.61,-20,2009.7,-32,2009.78,-44,2009.84,-34,2009.95,-42,2010.05,-30,2010.11,-38,2010.15,-52,2010.19,-60,2010.27,-60,2010.33,-44,2010.4,-42,2010.48,-30,2010.57,-42,2010.65,-34,2010.73,-46,2010.8,-38,2010.87,-46,2010.93,-28,2010.98,-40,2011.02,-22,2011.06,-32,
2011.1,-2,2011.14,-12,2011.22,10,2011.28,-8,2011.33,12,2011.38,28,2011.42,2,2011.48,-2,2011.53,-10,2011.58,12,2011.61,18,2011.65,30,2011.69,8,2011.74,22,2011.78,44,2011.82,58,2011.85,32,2011.89,25,2011.94,46,2011.96,32,2012.01,38,2012.05,12,2012.08,-2,2012.12,28,2012.15,46,2012.19,80,2012.23,60,2012.27,84,2012.31,68,2012.35,55,2012.38,52,2012.41,80,2012.44,58,2012.48,24,2012.52,22,2012.57,32,2012.62,18,2012.66,34,2012.69,18,2012.73,6,2012.77,6,2012.81,30,2012.86,40,2012.9,62,2012.94,78,2012.99,60,2013.04,75,2013.07,68,2013.12,90,2013.15,75,2013.19,92,2013.22,62,2013.25,58,2013.29,72,2013.32,68,2013.36,50,2013.39,58,2013.44,72,2013.49,92,2013.55,88,2013.59,105,2013.64,72,2013.68,75,2013.73,60,2013.77,48,2013.81,36,2013.84,30,2013.91,55,2013.97,58,2014.03,55,2014.07,68,2014.1,78,2014.14,55,2014.19,80,2014.23,100,2014.28,118,2014.34,100,2014.4,115,2014.45,95,2014.49,85,2014.53,70,2014.57,48,2014.6,30,2014.65,48,2014.69,35,2014.73,78,2014.76,105,2014.81,90,2014.85,128,2014.88,110,2014.92,138,2014.98,120,2015.0,165,2015.06,130,2015.09,170,2015.12,125,2015.16,150,2015.19,120,2015.23,95,2015.28,85,2015.32,60,2015.37,75,2015.41,100,2015.45,120,2015.47,140
];
// A10 reads as a solid row at 0% from 2016 on (no 10-year return can be computed yet)
const a10ZeroYears = [
2016.00,2016.02,2016.05,2016.07,2016.09,2016.12,2016.14,2016.16,2016.19,2016.21,2016.23,2016.26,2016.28,2016.3,2016.33,2016.35,2016.38,2016.4,2016.42,2016.45,2016.47,2016.49,2016.52,2016.54,2016.57,2016.59,2016.62,2016.64,2016.66,2016.68,2016.71,2016.73,2016.76,2016.78,2016.81,2016.83,2016.85,2016.87,2016.9,2016.92,2016.95,2016.97,2017.0,2017.02,2017.04,2017.07,2017.09,2017.11,2017.14,2017.16,2017.19,2017.21,2017.24,2017.26,2017.28,2017.3,2017.33,2017.35,2017.38,2017.4,2017.43,2017.45,2017.47,2017.49,2017.52,2017.54,2017.57,2017.59,2017.62,2017.64,2017.66,2017.68,2017.71,2017.73,2017.76,2017.78,2017.8,2017.83,2017.85,2017.87,2017.9,2017.92,2017.95,2017.97,2018.0,2018.02,2018.04,2018.06,2018.09,2018.11,2018.14,2018.16,2018.18,2018.21,2018.23,2018.25,2018.28,2018.3,2018.33,2018.35,2018.37,2018.4,2018.42,2018.44,2018.47,2018.49,2018.52,2018.54,2018.56,2018.59,2018.61,2018.63,2018.66,2018.68,2018.71,2018.73,2018.75,2018.78,2018.8,2018.82,2018.85,2018.87,2018.9,2018.92,2018.95,2018.97,2018.99,2019.02,2019.05,2019.07,2019.09,2019.11,2019.14,2019.16,2019.19,2019.21,2019.23,2019.26,2019.28,2019.3,2019.33,2019.35,2019.38,2019.4,2019.43,2019.45,2019.47,2019.49,2019.52,2019.54,2019.57,2019.59,2019.61,2019.64,2019.66,2019.68,2019.71,2019.73,2019.76,2019.78,2019.81,2019.83,2019.85,2019.87,2019.9,2019.92,2019.95,2019.97,2020.0,2020.02,2020.04,2020.06,2020.09,2020.11,2020.14,2020.16,2020.19,2020.21,2020.23,2020.26,2020.28,2020.3,2020.33,2020.35,2020.38,2020.4,2020.43,2020.45,2020.47,2020.49,2020.52,2020.54,2020.57,2020.59,2020.61,2020.64,2020.66,2020.68,2020.71,2020.73,2020.76,2020.78,2020.81,2020.83,2020.85,2020.87,2020.9,2020.92,2020.95,2020.97,2021.0,2021.02,2021.04,2021.06,2021.09,2021.11,2021.14,2021.16,2021.19,2021.21,2021.23,2021.26,2021.28,2021.3,2021.33,2021.35,2021.38,2021.4,2021.43,2021.45,2021.47,2021.49,2021.52,2021.54,2021.57,2021.59,2021.61,2021.64,2021.66,2021.68,2021.71,2021.73,2021.76,2021.78,2021.81,2021.83,2021.85,2021.87,2021.9,2021.92,2021.95,2021.97,2022.0,2022.02,2022.04,2022.06,2022.09,2022.11,2022.14,2022.16,2022.19,2022.21,2022.23,2022.26,2022.28,2022.3,2022.33,2022.35,2022.38,2022.4,2022.43,2022.45,2022.47,2022.49,2022.52,2022.54,2022.57,2022.59,2022.61,2022.64,2022.66,2022.68,2022.71,2022.73,2022.76,2022.78,2022.81,2022.83,2022.85,2022.87,2022.9,2022.92,2022.95,2022.97,2023.0
];

const table = flat => d3.range(0, flat.length, 2).map(i => ({year: flat[i], pct: flat[i + 1]}));
const a10Table = table(a10).concat(table(a10Cloud), a10ZeroYears.map(year => ({year, pct: 0})));

const chart = Plot.plot({
  width: 2086, height: 964,
  marginLeft: 92.5, marginRight: 71, marginTop: 41.3, marginBottom: 50.3,
  style: {background: "transparent", fontFamily: '"Liberation Sans",sans-serif', overflow: "visible"},
  x: {domain: [1997, 2023], label: null},
  y: {domain: [-200, 1200], label: null},
  marks: [
    Plot.gridX(xTicks, {stroke: "#d9d9d9", strokeOpacity: 1, strokeWidth: 1.5}),
    Plot.gridY(yTicks, {stroke: "#d9d9d9", strokeOpacity: 1, strokeWidth: 2.2}),
    Plot.ruleY([axisCrossing], {stroke: "#bfbfbf", strokeWidth: 2.2}),
    Plot.ruleX([1997], {stroke: "#c8c8c8", strokeWidth: 2.5}),
    Plot.axisX({ticks: xTicks, tickSize: 0, tickPadding: 23, fontSize: 27, fill: "#595959", tickFormat: d => `01/01/${d}`, label: null}),
    Plot.axisY({ticks: yTicks, tickSize: 0, tickPadding: 19, fontSize: 25, fill: "#595959", tickFormat: d => yTickLabels[yTicks.indexOf(d)], label: null}),
    Plot.dot(table(a04).concat(table(a04Cloud)), {x: "year", y: "pct", symbol: "plus", r: 3.05, stroke: seriesColors[0], strokeWidth: 1.7}),
    Plot.dot(table(a07).concat(table(a07Cloud)), {x: "year", y: "pct", symbol: "plus", r: 2.9, stroke: seriesColors[1], strokeWidth: 2.6}),
    Plot.dot(a10Table, {x: "year", y: "pct", symbol: "plus", r: 2.9, stroke: seriesColors[2], strokeWidth: 2.6})
  ]
});
document.getElementById("chart").append(chart);

// Excel's narrow lettering: tick labels are condensed to the reference's widths
chart.querySelectorAll('[aria-label="x-axis tick label"] text').forEach(t => {
  t.setAttribute("textLength", t.getComputedTextLength() * 0.725);
  t.setAttribute("lengthAdjust", "spacingAndGlyphs");
});
chart.querySelectorAll('[aria-label="y-axis tick label"] text').forEach(t => {
  t.setAttribute("textLength", t.getComputedTextLength() * 0.71);
  t.setAttribute("lengthAdjust", "spacingAndGlyphs");
});

document.getElementById("title").textContent = titleText;
document.getElementById("sub1").textContent = subtitleLines[0];
document.getElementById("sub2").textContent = subtitleLines[1];

const legend = document.getElementById("legend");
const legendRows = [222, 302, 381];
seriesNames.forEach((name, i) => {
  const t = document.createElement("div");
  t.className = "fit leg"; t.dataset.w = "190"; t.textContent = name;
  t.style.left = "1776px"; t.style.top = (legendRows[i] - 16) + "px";
  legend.append(t);
  const m = document.createElementNS("http://www.w3.org/2000/svg", "svg");
  m.setAttribute("width", 10); m.setAttribute("height", 12);
  m.style.cssText = `position:absolute;left:1757px;top:${legendRows[i] - 6}px`;
  m.innerHTML = `<path d="M5 1V11M1.5 6H8.5" stroke="${seriesColors[i]}" stroke-width="${i ? 2 : 1.3}" fill="none"/>`;
  legend.append(m);
});
document.querySelectorAll(".fit").forEach(el => {
  const w = el.getBoundingClientRect().width;
  el.style.transform = `scaleX(${+el.dataset.w / w})`;
});
</script>
</body>
</html>
